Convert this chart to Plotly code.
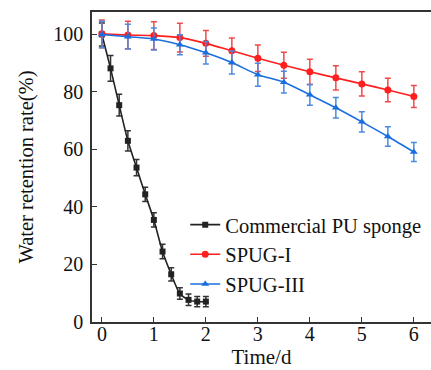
import plotly.graph_objects as go

# Data
t_pu = [0, 1/6, 2/6, 3/6, 4/6, 5/6, 1, 7/6, 8/6, 9/6, 10/6, 11/6, 2]
pu = [100, 88.2, 75.4, 63.0, 53.7, 44.4, 35.5, 24.5, 16.6, 9.9, 7.7, 7.1, 7.1]
pu_err = [4, 4.5, 3.8, 3.5, 2.8, 2.5, 2.5, 2.5, 2.3, 2.0, 2.0, 1.8, 1.8]

t_spug = [0, 0.5, 1, 1.5, 2, 2.5, 3, 3.5, 4, 4.5, 5, 5.5, 6]
spug1 = [100.2, 99.8, 99.6, 98.9, 96.9, 94.3, 91.7, 89.3, 87.0, 84.9, 82.8, 80.7, 78.4]
spug1_err = [4.8, 4.8, 4.8, 5.0, 4.5, 4.5, 4.6, 4.5, 4.4, 4.2, 4.2, 4.1, 3.8]
spug3 = [100, 99.2, 98.4, 96.4, 93.6, 90.2, 86.0, 83.4, 79.0, 74.5, 69.6, 64.5, 59.1]
spug3_err = [4.6, 4.3, 3.8, 3.5, 3.9, 4.0, 4.0, 3.8, 3.6, 3.6, 3.5, 3.4, 3.3]

names = ["Commercial PU sponge", "SPUG-I", "SPUG-III"]
xticks = [0, 1, 2, 3, 4, 5, 6]
yticks = [0, 20, 40, 60, 80, 100]

FONT = "Liberation Serif, Times New Roman, serif"

fig = go.Figure()

def add(x, y, err, name, color, ecolor, symbol, size):
    fig.add_trace(go.Scatter(
        x=x, y=y, name=name, mode="lines+markers",
        line=dict(color=color, width=1.6, shape="spline", smoothing=0.8),
        marker=dict(symbol=symbol, size=size, color=color),
        error_y=dict(type="data", array=err, visible=True, color=ecolor,
                     thickness=1.5, width=3),
    ))

add(t_pu, pu, pu_err, names[0], "#222222", "#333333", "square", 6)
add(t_spug, spug1, spug1_err, names[1], "#ff1f1f", "#f04a4a", "circle", 7)
add(t_spug, spug3, spug3_err, names[2], "#1a6fe0", "#4a8ae0", "triangle-up", 7)

fig.update_layout(
    width=431, height=370,
    margin=dict(l=92, r=0, t=12, b=48, autoexpand=False),
    paper_bgcolor="white", plot_bgcolor="white",
    font=dict(family=FONT, size=20, color="#111111"),
    showlegend=True,
    legend=dict(x=0.275, y=0.378, xanchor="left", yanchor="top",
                bgcolor="rgba(0,0,0,0)", font=dict(size=20.5, family=FONT),
                tracegroupgap=0, itemwidth=30),
    xaxis=dict(range=[-0.19, 6.33], tickvals=xticks, ticks="inside",
               ticklen=5, tickwidth=1.3, tickcolor="#333333",
               showline=True, linecolor="#333333", linewidth=1.5,
               mirror=True, showgrid=False, zeroline=False,
               ticklabelstandoff=-7,
               title=dict(text="Time/d", font=dict(size=21, family=FONT), standoff=4)),
    yaxis=dict(range=[0, 107.8], tickvals=yticks, ticks="inside",
               ticklen=5, tickwidth=1.3, tickcolor="#333333",
               showline=True, linecolor="#333333", linewidth=1.5,
               mirror=False, showgrid=False, zeroline=False,
               ticklabelstandoff=3,
               title=dict(text="Water retention rate(%)", font=dict(size=20.5, family=FONT), standoff=14)),
)

fig.write_html("out.html")
